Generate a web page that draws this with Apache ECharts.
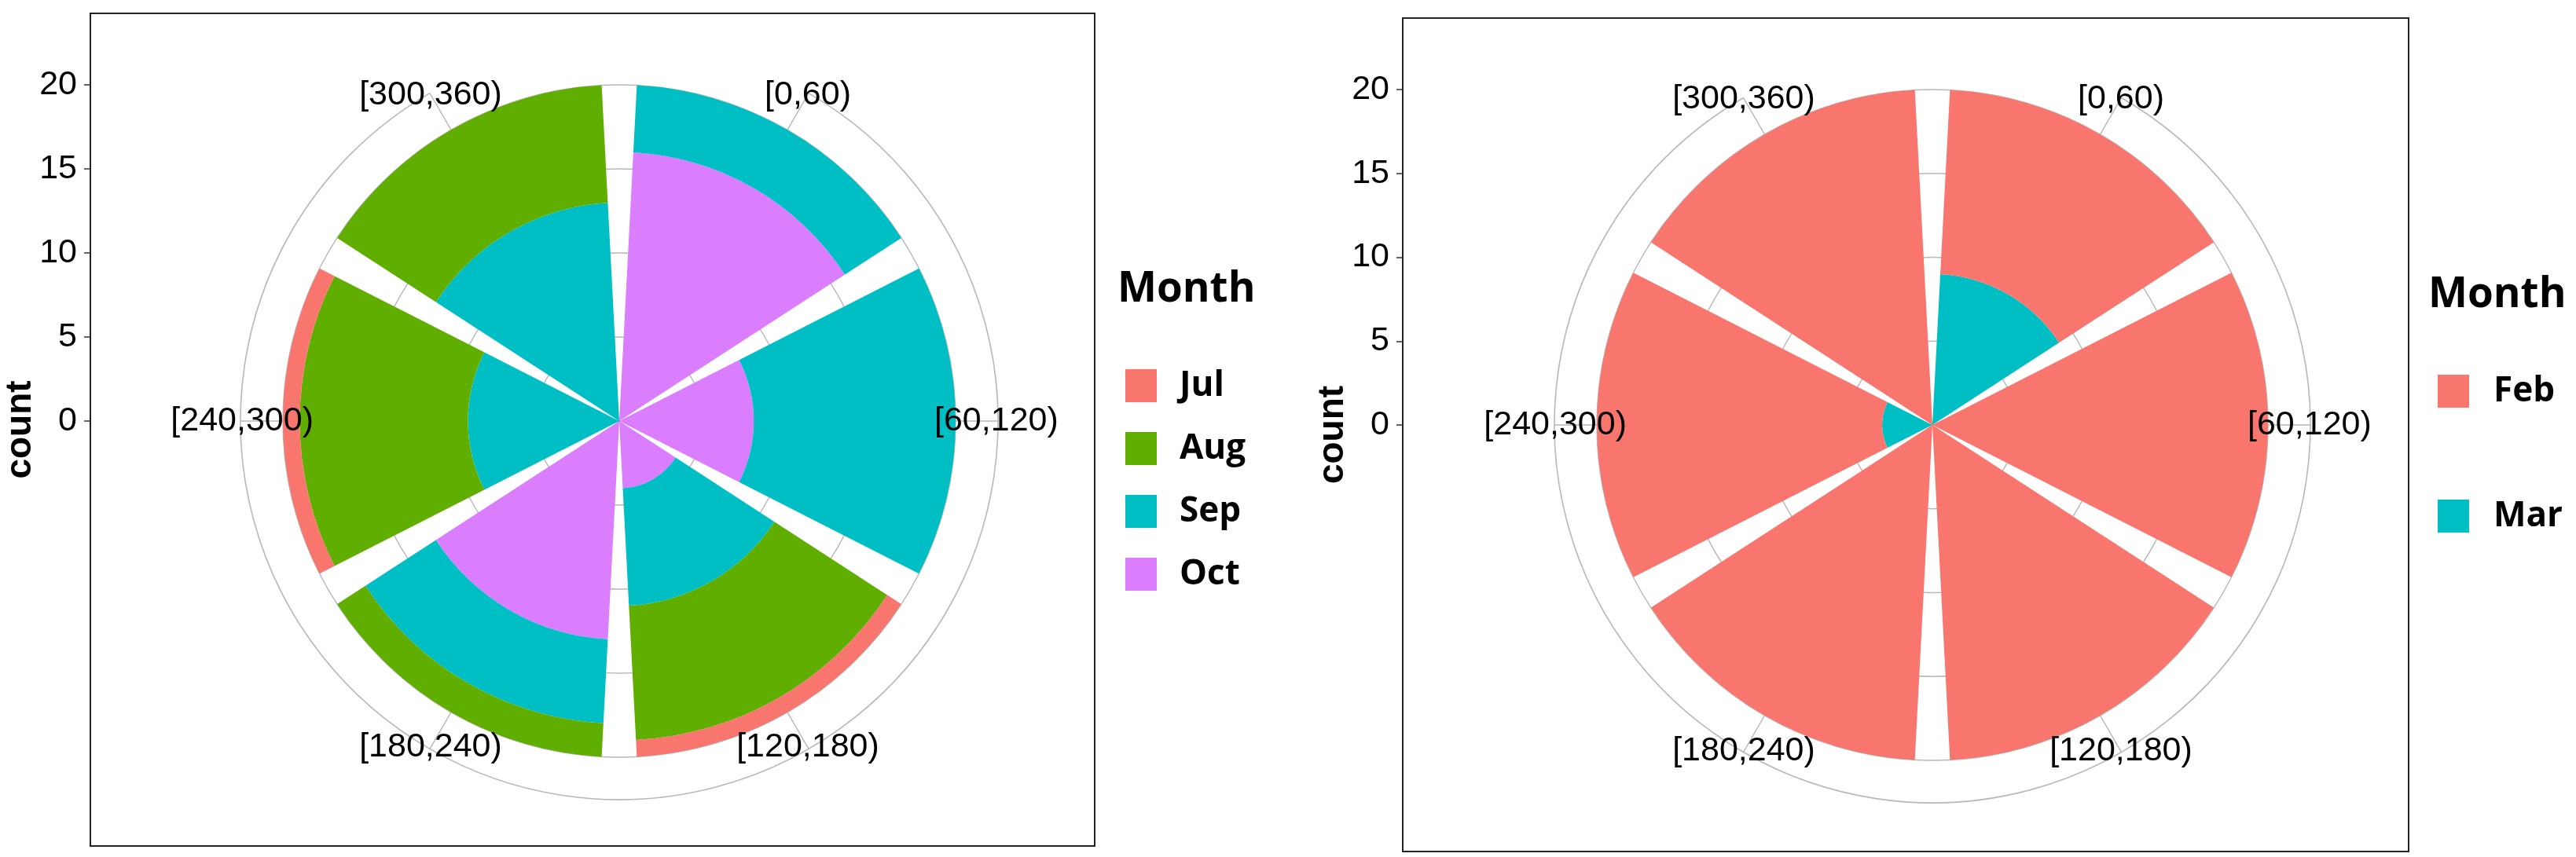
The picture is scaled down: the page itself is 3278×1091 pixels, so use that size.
<!DOCTYPE html>
<html><head><meta charset="utf-8">
<script src="https://cdn.jsdelivr.net/npm/echarts@6/dist/echarts.min.js"></script>
<style>html,body{margin:0;padding:0;background:#fff}#c{width:3278px;height:1091px}</style>
</head><body><div id="c"></div>
<script>
// ---- data ----
const categories = ['[0,60)','[60,120)','[120,180)','[180,240)','[240,300)','[300,360)'];
const leftMonths = ['Jul','Aug','Sep','Oct'];
const julCounts = [0,0,1,0,1,0];
const augCounts = [0,0,8,2,10,7];
const sepCounts = [4,12,7,5,9,13];
const octCounts = [16,8,4,13,0,0];
const rightMonths = ['Feb','Mar'];
const febCounts = [11,20,20,20,17,20];
const marCounts = [9,0,0,0,3,0];
const countTicks = [0,5,10,15,20];
const legendTitle = 'Month';
const axisTitle = 'count';

// ---- styles / layout ----
const colors = {Jul:'#F8766D', Aug:'#5FAE00', Sep:'#00BFC4', Oct:'#DA7DFF', Feb:'#F8766D', Mar:'#00BFC4'};
const gridColor = '#b8b8b8';
const labelFont = 43, labelLH = 44;
const panels = [
  {frame:{left:115,top:17,width:1278,height:1060}, cx:788, cy:536, rBar:428, rOuter:482,
   title:{left:1422,top:342}, legend:{left:1432,top:469,gap:36,pad:24},
   months:leftMonths, stack:[['Oct',octCounts],['Sep',sepCounts],['Aug',augCounts],['Jul',julCounts]]},
  {frame:{left:1785,top:23,width:1280,height:1061}, cx:2459, cy:541, rBar:427, rOuter:481,
   title:{left:3090,top:349}, legend:{left:3102,top:476,gap:115,pad:26},
   months:rightMonths, stack:[['Mar',marCounts],['Feb',febCounts]]}
];

const measureCtx = document.createElement('canvas').getContext('2d');
measureCtx.font = labelFont + 'px Liberation Sans';
function labelPads(R0, rho, Rl) {
  return categories.map((c, i) => {
    const th = (i + 0.5) * Math.PI / 3;
    const s = Math.sin(th), co = Math.cos(th);
    const ax = rho * s, ay = -rho * co;
    const dx = Rl * s - ax, dy = -Rl * co - ay;
    const w = measureCtx.measureText(c).width, h = labelLH;
    let pl = 0, pr = 0, pt = 0, pb = 0;
    const hA = Math.abs(ax) / R0 < 0.3 ? 'center' : (ax > 0 ? 'left' : 'right');
    const vA = Math.abs(ay) / R0 < 0.3 ? 'middle' : (ay > 0 ? 'top' : 'bottom');
    if (hA === 'center') { if (dx > 0) pl = 2 * dx; else pr = -2 * dx; }
    else if (hA === 'left') pl = dx - w / 2; else pr = -dx - w / 2;
    if (vA === 'middle') { if (dy > 0) pt = 2 * dy; else pb = -2 * dy; }
    else if (vA === 'top') pt = dy - h / 2; else pb = -dy - h / 2;
    return [pt, pr, pb, pl].map(v => Math.max(0, Math.round(v)));
  });
}

const option = {animation:false, backgroundColor:'#fff', title:[], legend:[], grid:[], xAxis:[], yAxis:[],
  polar:[], angleAxis:[], radiusAxis:[], series:[]};

panels.forEach((p, k) => {
  const f = p.frame;
  // frame grid (also carries the axis title)
  option.grid.push({left:f.left, top:f.top, width:f.width, height:f.height, show:true,
    borderColor:'#222', borderWidth:2, backgroundColor:'transparent'});
  option.xAxis.push({gridIndex:2*k, type:'value', show:false});
  option.yAxis.push({gridIndex:2*k, type:'value', min:0, max:1, name:axisTitle, nameLocation:'middle',
    nameGap:66, nameRotate:90, nameTextStyle:{fontSize:46, fontWeight:'bold', fontFamily:'Liberation Sans', color:'#000'},
    axisLine:{show:false}, axisTick:{show:false}, axisLabel:{show:false}, splitLine:{show:false}});
  // count axis grid: 0 at polar centre, 20 at bar radius
  option.grid.push({left:f.left, top:p.cy - p.rBar, width:20, height:p.rBar, show:false});
  option.xAxis.push({gridIndex:2*k+1, type:'value', show:false});
  option.yAxis.push({gridIndex:2*k+1, type:'value', min:countTicks[0], max:countTicks[countTicks.length-1],
    interval:countTicks[1]-countTicks[0],
    axisLine:{show:false}, axisTick:{show:true, length:8, lineStyle:{color:'#333', width:1.5}},
    axisLabel:{margin:17, fontSize:labelFont, fontFamily:'Liberation Sans', color:'#000'}, splitLine:{show:false}});

  // polar A: bars, radial grid circles, category labels
  const pa = option.polar.length;
  option.polar.push({center:[p.cx, p.cy], radius:[0, p.rBar]});
  const rho = 200;
  const pads = labelPads(p.rBar, rho, 480);
  option.angleAxis.push({polarIndex:pa, type:'category', startAngle:90, clockwise:true, boundaryGap:true, z:10,
    data: categories.map((c, i) => ({value:c, textStyle:{padding:pads[i]}})),
    axisLine:{show:false}, axisTick:{show:false}, splitLine:{show:false},
    axisLabel:{show:true, interval:0, margin:rho - p.rBar, fontSize:labelFont, lineHeight:labelLH,
      fontFamily:'Liberation Sans', color:'#000'}});
  option.radiusAxis.push({polarIndex:pa, type:'value', min:countTicks[0], max:countTicks[countTicks.length-1],
    interval:countTicks[1]-countTicks[0], z:0,
    axisLine:{show:false}, axisTick:{show:false}, axisLabel:{show:false},
    splitLine:{show:true, lineStyle:{color:gridColor, width:1.4}}});
  // polar B: outer circle + theta grid lines at category centres
  const pb = option.polar.length;
  option.polar.push({center:[p.cx, p.cy], radius:[0, p.rOuter]});
  option.angleAxis.push({polarIndex:pb, type:'category', data:categories, startAngle:60, clockwise:true,
    boundaryGap:false, z:0,
    axisLine:{show:true, lineStyle:{color:gridColor, width:1.6}}, axisTick:{show:false}, axisLabel:{show:false},
    splitLine:{show:true, interval:0, lineStyle:{color:gridColor, width:1.4}}});
  option.radiusAxis.push({polarIndex:pb, type:'value', min:0, max:1, show:false});

  p.stack.forEach(([name, vals]) => {
    option.series.push({type:'bar', name, coordinateSystem:'polar', polarIndex:pa, stack:'s' + k,
      data: vals, barCategoryGap:'10%', itemStyle:{color:colors[name]}, z:2});
  });

  option.title.push({text:legendTitle, left:p.title.left, top:p.title.top, padding:0,
    textStyle:{fontSize:53, fontWeight:'bold', fontFamily:'Open Sans', color:'#000', lineHeight:53}});
  option.legend.push({orient:'vertical', left:p.legend.left, top:p.legend.top, padding:0,
    itemWidth:40, itemHeight:42, itemGap:p.legend.gap, icon:'rect', data:p.months, selectedMode:false,
    textStyle:{fontSize:44, fontWeight:'bold', fontFamily:'Open Sans', color:'#000', lineHeight:42,
      padding:[0,0,0,p.legend.pad]}});
});

const chart = echarts.init(document.getElementById('c'));
chart.setOption(option);
</script></body></html>
